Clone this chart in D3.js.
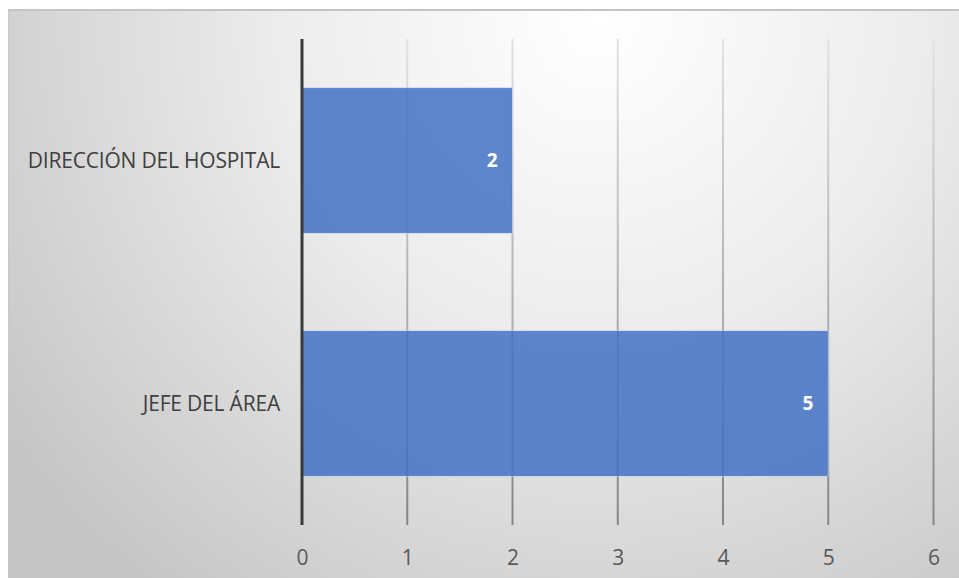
<!DOCTYPE html>
<html>
<head>
<meta charset="utf-8">
<script src="https://cdn.jsdelivr.net/npm/d3@7"></script>
<style>
  html, body { margin: 0; padding: 0; background: #fff; }
  svg { display: block; }
</style>
</head>
<body>
<svg id="chart" width="959" height="578"></svg>
<script>
// Respondents by who they report to
const categories = ["DIRECCIÓN DEL HOSPITAL", "JEFE DEL ÁREA"];
const values = [2, 5];
const xTicks = [0, 1, 2, 3, 4, 5, 6];

const W = 959, H = 578;
const svg = d3.select("#chart");
const defs = svg.append("defs");

// Chart area background: soft radial light from the top centre
const bg = defs.append("radialGradient")
  .attr("id", "bgGrad")
  .attr("gradientUnits", "userSpaceOnUse")
  .attr("cx", 600).attr("cy", 20).attr("r", 720);
bg.append("stop").attr("offset", "0%").attr("stop-color", "#ffffff");
bg.append("stop").attr("offset", "45%").attr("stop-color", "#ececec");
bg.append("stop").attr("offset", "100%").attr("stop-color", "#c6c6c6");

const frame = { x: 8, y: 10 };
svg.append("rect")
  .attr("x", frame.x).attr("y", frame.y)
  .attr("width", W - frame.x).attr("height", H - frame.y)
  .attr("fill", "url(#bgGrad)");
svg.append("line")
  .attr("x1", frame.x).attr("x2", W)
  .attr("y1", frame.y).attr("y2", frame.y)
  .attr("stroke", "#c4c4c4").attr("stroke-width", 2);
svg.append("line")
  .attr("x1", frame.x + 0.5).attr("x2", frame.x + 0.5)
  .attr("y1", frame.y).attr("y2", H)
  .attr("stroke", "#c8c8c8").attr("stroke-width", 1);

// Plot geometry
const plot = { left: 302, right: 933.5, top: 39, bottom: 525 };

const x = d3.scaleLinear()
  .domain([d3.min(xTicks), d3.max(xTicks)])
  .range([plot.left, plot.right]);

const y = d3.scaleBand()
  .domain(categories)
  .range([plot.top, plot.bottom])
  .paddingInner(0.4)
  .paddingOuter(0.2);

// Gridlines fade from light at the top to darker at the bottom
const gg = defs.append("linearGradient")
  .attr("id", "gridGrad")
  .attr("gradientUnits", "userSpaceOnUse")
  .attr("x1", 0).attr("y1", plot.top)
  .attr("x2", 0).attr("y2", plot.bottom);
gg.append("stop").attr("offset", "0%").attr("stop-color", "#e2e2e2");
gg.append("stop").attr("offset", "50%").attr("stop-color", "#b4b4b4");
gg.append("stop").attr("offset", "100%").attr("stop-color", "#858585");

svg.append("g")
  .selectAll("line")
  .data(xTicks.filter(d => d !== 0))
  .join("line")
  .attr("x1", d => x(d)).attr("x2", d => x(d))
  .attr("y1", plot.top).attr("y2", plot.bottom)
  .attr("stroke", "url(#gridGrad)")
  .attr("stroke-width", 2);

// Bars (slightly translucent so gridlines show through)
svg.append("g")
  .selectAll("rect")
  .data(categories)
  .join("rect")
  .attr("x", x(0))
  .attr("y", d => y(d))
  .attr("width", (d, i) => x(values[i]) - x(0))
  .attr("height", y.bandwidth())
  .attr("fill", "#4472c4")
  .attr("fill-opacity", 0.86)
  .attr("stroke", "rgba(255,255,255,0.45)")
  .attr("stroke-width", 1);

// Zero axis line
svg.append("line")
  .attr("x1", x(0)).attr("x2", x(0))
  .attr("y1", plot.top).attr("y2", plot.bottom)
  .attr("stroke", "#3a3a3a")
  .attr("stroke-width", 3);

// Value labels inside bar ends
svg.append("g")
  .selectAll("text")
  .data(categories)
  .join("text")
  .attr("x", (d, i) => x(values[i]) - 15)
  .attr("y", d => y(d) + y.bandwidth() / 2)
  .attr("dy", "0.36em")
  .attr("text-anchor", "end")
  .attr("font-family", "'Open Sans', sans-serif")
  .attr("font-weight", "bold")
  .attr("font-size", 19)
  .attr("fill", "#ffffff")
  .text((d, i) => values[i]);

// Category labels
svg.append("g")
  .selectAll("text")
  .data(categories)
  .join("text")
  .attr("x", plot.left - 22)
  .attr("y", d => y(d) + y.bandwidth() / 2)
  .attr("dy", "0.36em")
  .attr("text-anchor", "end")
  .attr("font-family", "'Open Sans', sans-serif")
  .attr("font-size", 21)
  .attr("letter-spacing", "-0.2px")
  .attr("fill", "#404040")
  .text(d => d);

// Value axis labels
const xAxis = d3.axisBottom(x)
  .tickValues(xTicks)
  .tickSize(0)
  .tickPadding(0)
  .tickFormat(d3.format("d"));
const ax = svg.append("g")
  .attr("transform", `translate(0, ${plot.bottom + 32})`)
  .call(xAxis);
ax.select(".domain").remove();
ax.selectAll("text")
  .attr("font-family", "'Open Sans', sans-serif")
  .attr("font-size", 21)
  .attr("fill", "#595959")
  .attr("dy", "0.36em")
  .attr("y", 0);
</script>
</body>
</html>
